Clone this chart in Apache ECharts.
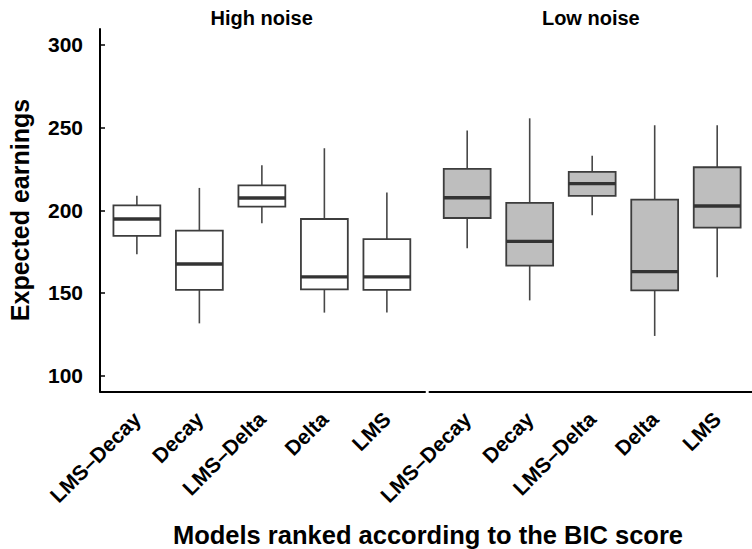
<!DOCTYPE html>
<html>
<head>
<meta charset="utf-8">
<script src="https://cdn.jsdelivr.net/npm/echarts@6/dist/echarts.min.js"></script>
<style>
  html, body { margin: 0; padding: 0; background: #fff; }
  #chart { width: 752px; height: 549px; }
</style>
</head>
<body>
<div id="chart"></div>
<script>
// Model names, in BIC rank order
const models = ['LMS–Decay', 'Decay', 'LMS–Delta', 'Delta', 'LMS'];
const panelTitles = ['High noise', 'Low noise'];
const yTicks = [100, 150, 200, 250, 300];

// Box statistics per model: [lower whisker, Q1, median, Q3, upper whisker]
const highNoise = [
  [173.4, 184.5, 194.7, 203.0, 208.8],
  [131.6, 151.8, 167.5, 187.7, 213.5],
  [192.1, 202.2, 207.4, 215.1, 227.2],
  [138.1, 152.2, 159.7, 194.7, 237.5],
  [138.1, 151.8, 159.7, 182.6, 210.7]
];
const lowNoise = [
  [177.0, 195.3, 207.6, 225.0, 248.2],
  [145.5, 166.5, 181.2, 204.4, 255.6],
  [197.0, 208.7, 216.1, 223.2, 233.0],
  [124.0, 151.6, 162.9, 206.4, 251.4],
  [159.5, 189.5, 202.6, 226.0, 251.4]
];

const FONT = '"Liberation Sans", Arial, Helvetica, sans-serif';
const BOX_HALF = 0.375;

function toSeriesData(stats) {
  return stats.map((s, i) => [i + 1].concat(s));
}

function renderBox(fill) {
  return function (params, api) {
    const x = api.value(0);
    const lo = api.coord([x, api.value(1)]);
    const q1 = api.coord([x, api.value(2)]);
    const med = api.coord([x, api.value(3)]);
    const q3 = api.coord([x, api.value(4)]);
    const hi = api.coord([x, api.value(5)]);
    const left = api.coord([x - BOX_HALF, api.value(3)])[0];
    const right = api.coord([x + BOX_HALF, api.value(3)])[0];
    const cx = lo[0];
    const whisker = { stroke: '#474747', lineWidth: 1.6 };
    return {
      type: 'group',
      children: [
        { type: 'line', shape: { x1: cx, y1: q3[1], x2: cx, y2: hi[1] }, style: whisker },
        { type: 'line', shape: { x1: cx, y1: q1[1], x2: cx, y2: lo[1] }, style: whisker },
        {
          type: 'rect',
          shape: { x: left, y: q3[1], width: right - left, height: q1[1] - q3[1] },
          style: { fill: fill, stroke: '#3d3d3d', lineWidth: 1.8 }
        },
        {
          type: 'line',
          shape: { x1: left, y1: med[1], x2: right, y2: med[1] },
          style: { stroke: '#333333', lineWidth: 3.4 }
        }
      ]
    };
  };
}

const axisLineStyle = { color: '#000', width: 2 };
const labelStyle = { color: '#000', fontFamily: FONT, fontWeight: 'bold', fontSize: 21 };

function xAxisFor(gridIndex, min, max) {
  return {
    type: 'value', gridIndex: gridIndex, min: min, max: max,
    splitLine: { show: false },
    axisTick: { show: false },
    axisLine: { show: true, lineStyle: axisLineStyle, onZero: false },
    axisLabel: Object.assign({
      customValues: [1, 2, 3, 4, 5],
      rotate: 45, margin: 24,
      formatter: v => models[Math.round(v) - 1] || ''
    }, labelStyle)
  };
}

const chart = echarts.init(document.getElementById('chart'), null, { renderer: 'svg' });
chart.setOption({
  animation: false,
  backgroundColor: '#fff',
  grid: [
    { left: 100, top: 29, width: 325, height: 362.5 },
    { left: 429.5, top: 29, width: 322.5, height: 362.5 }
  ],
  xAxis: [
    xAxisFor(0, 0.41, 5.61),
    xAxisFor(1, 0.397, 5.557)
  ],
  yAxis: [
    {
      type: 'value', gridIndex: 0, min: 90.4, max: 309.6,
      splitLine: { show: false },
      axisLine: { show: true, lineStyle: axisLineStyle },
      axisTick: { show: true, inside: true, length: 5, customValues: yTicks, lineStyle: { color: '#000', width: 1.5 } },
      axisLabel: Object.assign({ customValues: yTicks, margin: 17 }, labelStyle)
    },
    {
      type: 'value', gridIndex: 1, min: 90.4, max: 309.6, show: false,
      splitLine: { show: false }
    }
  ],
  graphic: [
    {
      type: 'text', x: 261.7, y: 18,
      style: { text: panelTitles[0], font: 'bold 20px ' + FONT, fill: '#000', textAlign: 'center', textVerticalAlign: 'middle' }
    },
    {
      type: 'text', x: 590.8, y: 18,
      style: { text: panelTitles[1], font: 'bold 20px ' + FONT, fill: '#000', textAlign: 'center', textVerticalAlign: 'middle' }
    },
    {
      type: 'text', x: 19.5, y: 210, rotation: Math.PI / 2,
      style: { text: 'Expected earnings', font: 'bold 25px ' + FONT, fill: '#000', textAlign: 'center', textVerticalAlign: 'middle' }
    },
    {
      type: 'text', x: 428, y: 535,
      style: { text: 'Models ranked according to the BIC score', font: 'bold 25.5px ' + FONT, fill: '#000', textAlign: 'center', textVerticalAlign: 'middle' }
    }
  ],
  series: [
    {
      type: 'custom', name: panelTitles[0], xAxisIndex: 0, yAxisIndex: 0,
      renderItem: renderBox('#ffffff'),
      encode: { x: 0, y: [1, 2, 3, 4, 5] },
      data: toSeriesData(highNoise)
    },
    {
      type: 'custom', name: panelTitles[1], xAxisIndex: 1, yAxisIndex: 1,
      renderItem: renderBox('#bebebe'),
      encode: { x: 0, y: [1, 2, 3, 4, 5] },
      data: toSeriesData(lowNoise)
    }
  ]
});
</script>
</body>
</html>
